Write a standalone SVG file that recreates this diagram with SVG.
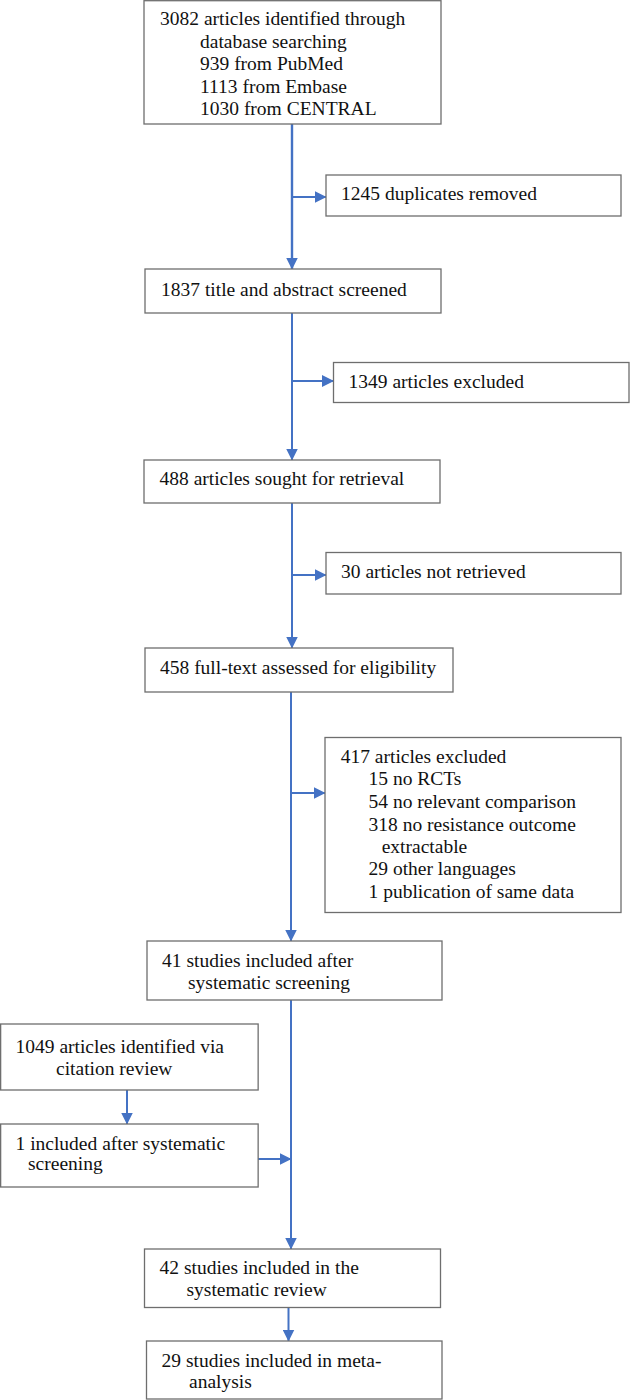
<svg xmlns="http://www.w3.org/2000/svg" width="630" height="1400" viewBox="0 0 630 1400">
<style>
.box{fill:#fff;stroke:#6e6e6e;stroke-width:1.3}
.t{font-family:"Liberation Serif","Times New Roman",serif;font-size:19.5px;fill:#111}
.c{fill:none;stroke:#4472c4;stroke-width:2}
</style>
<defs>
<marker id="ah" markerUnits="userSpaceOnUse" markerWidth="12" markerHeight="12" refX="11.5" refY="6" orient="auto">
<path d="M0,0 L12,6 L0,12 z" fill="#4472c4"/>
</marker>
</defs>
<rect width="630" height="1400" fill="#fff"/>
<g id="connectors">
<path class="c" style="stroke-width:2.4" d="M292,124 V269" marker-end="url(#ah)"/>
<path class="c" d="M292,197 H326" marker-end="url(#ah)"/>
<path class="c" d="M292,313 V460" marker-end="url(#ah)"/>
<path class="c" d="M292,381 H333.5" marker-end="url(#ah)"/>
<path class="c" d="M292,503 V648" marker-end="url(#ah)"/>
<path class="c" d="M292,575 H326" marker-end="url(#ah)"/>
<path class="c" d="M291,692 V941" marker-end="url(#ah)"/>
<path class="c" d="M291,793 H325" marker-end="url(#ah)"/>
<path class="c" d="M291,1000 V1249" marker-end="url(#ah)"/>
<path class="c" d="M258,1159 H291" marker-end="url(#ah)"/>
<path class="c" d="M127,1090 V1124" marker-end="url(#ah)"/>
<path class="c" d="M288.5,1308 V1341" marker-end="url(#ah)"/>
</g>
<g id="identified">
<rect class="box" x="144" y="0.7" width="297" height="123.3"/>
<text class="t" x="160" y="25">3082 articles identified through</text>
<text class="t" x="200" y="47.5">database searching</text>
<text class="t" x="200" y="70">939 from PubMed</text>
<text class="t" x="200" y="92.5">1113 from Embase</text>
<text class="t" x="200" y="115">1030 from CENTRAL</text>
</g>
<g id="duplicates">
<rect class="box" x="326" y="175" width="295" height="41"/>
<text class="t" x="341" y="200">1245 duplicates removed</text>
</g>
<g id="screened">
<rect class="box" x="145" y="269" width="296" height="44"/>
<text class="t" x="161" y="296">1837 title and abstract screened</text>
</g>
<g id="excluded1">
<rect class="box" x="333.5" y="362.5" width="295.5" height="40"/>
<text class="t" x="348.5" y="387.5">1349 articles excluded</text>
</g>
<g id="sought">
<rect class="box" x="144" y="460" width="296" height="43"/>
<text class="t" x="159.5" y="485">488 articles sought for retrieval</text>
</g>
<g id="notretrieved">
<rect class="box" x="326" y="552.5" width="295" height="41.5"/>
<text class="t" x="341" y="578">30 articles not retrieved</text>
</g>
<g id="fulltext">
<rect class="box" x="145" y="648" width="308" height="44"/>
<text class="t" x="160" y="673.5">458 full-text assessed for eligibility</text>
</g>
<g id="excluded2">
<rect class="box" x="325" y="737.5" width="296" height="175"/>
<text class="t" x="340.7" y="762.5">417 articles excluded</text>
<text class="t" x="368.5" y="785">15 no RCTs</text>
<text class="t" x="368.5" y="808">54 no relevant comparison</text>
<text class="t" x="368.5" y="830.5">318 no resistance outcome</text>
<text class="t" x="381.7" y="852.5">extractable</text>
<text class="t" x="368.5" y="875">29 other languages</text>
<text class="t" x="368.5" y="897.5">1 publication of same data</text>
</g>
<g id="included41">
<rect class="box" x="147" y="941" width="295" height="59"/>
<text class="t" x="162" y="967">41 studies included after</text>
<text class="t" x="188" y="989">systematic screening</text>
</g>
<g id="citation">
<rect class="box" x="0.65" y="1024" width="257.5" height="66"/>
<text class="t" x="15.5" y="1053">1049 articles identified via</text>
<text class="t" x="56" y="1075">citation review</text>
</g>
<g id="included1">
<rect class="box" x="0.65" y="1124" width="257.5" height="63"/>
<text class="t" x="15.5" y="1150">1 included after systematic</text>
<text class="t" x="28" y="1170">screening</text>
</g>
<g id="review42">
<rect class="box" x="144.5" y="1249" width="296" height="58.5"/>
<text class="t" x="159.5" y="1274">42 studies included in the</text>
<text class="t" x="186.5" y="1296">systematic review</text>
</g>
<g id="meta29">
<rect class="box" x="146.5" y="1341" width="295.5" height="58"/>
<text class="t" x="161.5" y="1366.5">29 studies included in meta-</text>
<text class="t" x="189" y="1388">analysis</text>
</g>
</svg>
